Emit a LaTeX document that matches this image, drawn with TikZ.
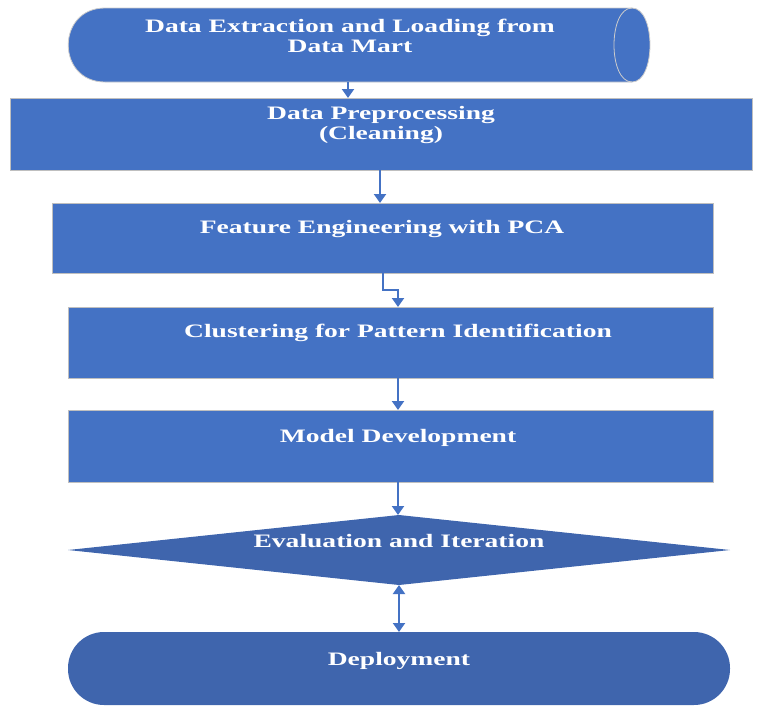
\documentclass[tikz,border=0pt]{standalone}
\usepackage{fontspec}
\setmainfont{Liberation Serif}
\usetikzlibrary{arrows.meta}
\definecolor{bA}{HTML}{4472C4}
\definecolor{bB}{HTML}{3F65AD}
\newcommand{\wt}[1]{\scalebox{1.45}[1]{#1}}
\begin{document}
\begin{tikzpicture}[x=1pt,y=-1pt,
  box/.style={draw=gray!50,line width=0.8pt,fill=bA,inner sep=0},
  lab/.style={text=white,font=\bfseries\fontsize{19}{20}\selectfont,align=center,inner sep=0},
  arr/.style={draw=bA,line width=2pt,-{Triangle[width=12pt,length=9pt]}}]
\useasboundingbox (0,0) rectangle (764,716);
\path[fill=bA,draw=gray!40,line width=0.8pt] (105,8) -- (632,8) .. controls (656,8) and (656,82) .. (632,82) -- (105,82) .. controls (56,82) and (56,8) .. (105,8) -- cycle;
\draw[gray!40,line width=0.8pt] (632,8) .. controls (608,8) and (608,82) .. (632,82);
\coordinate (cb) at (348,82);
\node[lab] (ct) at (350,36) {\wt{Data Extraction and Loading from}\\\wt{Data Mart}};
\node[box,minimum width=742pt,minimum height=72pt] (p) at (381,134) {};
\node[lab] at (381,125) {\wt{Data Preprocessing}\\\wt{(Cleaning)}};
\node[box,minimum width=661pt,minimum height=70pt] (f) at (382.5,238) {};
\node[lab] at (382,229) {\wt{Feature Engineering with PCA}};
\node[box,minimum width=645pt,minimum height=71pt] (k) at (390.5,342.5) {};
\node[lab] at (398,333) {\wt{Clustering for Pattern Identification}};
\node[box,minimum width=645pt,minimum height=72pt] (m) at (390.5,446) {};
\node[lab] at (398,438) {\wt{Model Development}};
\path[fill=bB] (68,550) -- (399,515) -- (730,550) -- (399,585) -- cycle;
\coordinate (dt) at (398,515); \coordinate (db) at (399,585);
\node[lab] at (399,541) {\wt{Evaluation and Iteration}};
\node[fill=bB,rounded corners=36pt,minimum width=662pt,minimum height=73pt,inner sep=0] (s) at (399,668.5) {};
\node[lab] at (399,661) {\wt{Deployment}};
\draw[arr] (cb) -- (348,98);
\draw[arr] (380,170) -- (380,203);
\draw[arr] (383,273) -- (383,290) -- (398,290) -- (398,307);
\draw[arr] (398,378) -- (398,410);
\draw[arr] (398,482) -- (dt);
\draw[draw=bA,line width=2pt,{Triangle[width=12pt,length=9pt]}-{Triangle[width=12pt,length=9pt]}] (db) -- (399,632);
\end{tikzpicture}
\end{document}
